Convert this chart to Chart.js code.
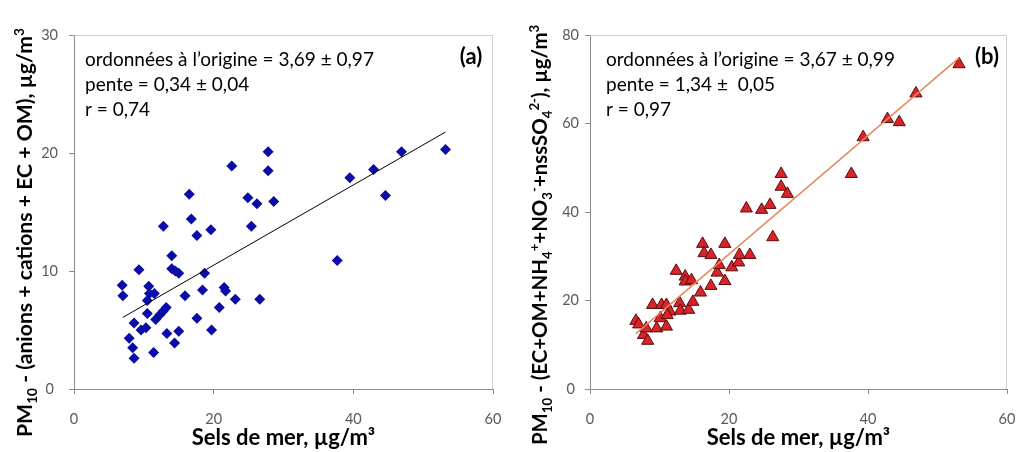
<!DOCTYPE html>
<html>
<head>
<meta charset="utf-8">
<script src="https://cdn.jsdelivr.net/npm/chart.js@4.4.1/dist/chart.umd.min.js"></script>
<style>
html, body { margin: 0; padding: 0; background: #fff; }
#wrap { position: relative; width: 1017px; height: 452px; }
#ca { position: absolute; left: 0; top: 0; }
#cb { position: absolute; left: 508px; top: 0; }
</style>
</head>
<body>
<div id="wrap">
  <canvas id="ca" width="508" height="452"></canvas>
  <canvas id="cb" width="509" height="452"></canvas>
</div>
<script>
// (a) sels de mer vs PM10 - (anions + cations + EC + OM)
const aX = [6.9, 7.0, 9.3, 8.6, 7.9, 8.4, 8.6, 11.4, 9.6, 10.3, 10.5, 10.7, 10.8, 11.5, 10.5, 11.7, 12.3, 12.8,
            13.2, 12.8, 14.0, 14.0, 14.5, 15.0, 13.3, 14.4, 15.0, 15.9, 16.5, 16.8, 17.6, 19.6, 18.7, 18.4,
            17.6, 19.7, 20.8, 21.5, 21.7, 23.1, 22.6, 24.9, 26.2, 25.4, 26.6, 27.8, 27.8, 28.6, 37.7, 39.5,
            42.9, 44.6, 46.9, 53.2];
const aY = [8.8, 7.9, 10.1, 5.6, 4.3, 3.5, 2.6, 3.1, 5.0, 5.2, 6.4, 8.7, 8.1, 8.1, 7.5, 5.9, 6.3, 6.6,
            6.9, 13.8, 11.3, 10.2, 10.0, 9.8, 4.7, 3.9, 4.9, 7.9, 16.5, 14.4, 13.0, 13.5, 9.8, 8.4,
            6.0, 5.0, 6.9, 8.6, 8.3, 7.6, 18.9, 16.2, 15.7, 13.8, 7.6, 20.1, 18.5, 15.9, 10.9, 17.9,
            18.6, 16.4, 20.1, 20.3];
const aFit = [3.69, 0.34];      // ordonnee, pente
const aRange = [7.0, 53.2];

// (b) sels de mer vs PM10 - (EC+OM+NH4+NO3+nssSO4)
const bX = [6.6, 7.0, 7.7, 8.3, 8.1, 9.0, 9.6, 10.1, 10.3, 11.0, 11.0, 11.5, 11.1, 12.4, 12.9, 13.0, 13.7, 13.7,
            14.6, 14.2, 14.8, 15.9, 16.2, 16.4, 17.4, 17.4, 18.3, 18.6, 19.4, 19.4, 20.4, 21.4, 21.5, 23.0,
            22.5, 24.7, 25.9, 26.3, 27.5, 27.5, 28.4, 37.6, 39.3, 42.8, 44.5, 46.9, 53.1];
const bY = [15.4, 14.6, 12.2, 10.9, 13.7, 19.0, 13.7, 16.0, 19.0, 14.1, 19.0, 17.5, 16.7, 26.7, 19.4, 17.7, 25.4, 24.3,
            24.6, 17.9, 19.7, 21.8, 32.8, 30.7, 30.3, 23.3, 26.3, 28.0, 32.8, 24.4, 27.5, 28.6, 30.3, 30.3,
            40.8, 40.5, 41.6, 34.3, 48.6, 45.7, 44.1, 48.6, 56.9, 61.0, 60.3, 66.8, 73.4];
const bFit = [3.67, 1.34];
const bRange = [6.6, 53.1];

const xTicks = [0, 20, 40, 60];
const aTicks = [0, 10, 20, 30];
const bTicks = [0, 20, 40, 60, 80];

const aNotes = ["ordonnées à l’origine = 3,69 ± 0,97", "pente = 0,34 ± 0,04", "r = 0,74"];
const bNotes = ["ordonnées à l’origine = 3,67 ± 0,99", "pente = 1,34 ±  0,05", "r = 0,97"];
const xTitle = "Sels de mer, µg/m³";
// [text, 0 normal | 1 indice | 2 exposant]
const aYTitle = [["PM", 0], ["10", 1], [" - (anions + cations + EC + OM), µg/m", 0], ["3", 2]];
const bYTitle = [["PM", 0], ["10", 1], [" - (EC+OM+NH", 0], ["4", 1], ["+", 2], ["+NO", 0], ["3", 1], ["-", 2],
                 ["+nssSO", 0], ["4", 1], ["2-", 2], ["), µg/m", 0], ["3", 2]];

const FONT = "Lato, 'Open Sans', sans-serif";

const notesPlugin = {
    id: 'notes',
    beforeDatasetsDraw(chart, args, o) {
        const a = chart.chartArea, ctx = chart.ctx;
        ctx.save();
        ctx.strokeStyle = '#cfcfcf';
        ctx.lineWidth = 1;
        ctx.beginPath();
        ctx.moveTo(a.left, a.top + 0.5);
        ctx.lineTo(a.right - 0.5, a.top + 0.5);
        ctx.lineTo(a.right - 0.5, a.bottom);
        ctx.stroke();
        ctx.restore();
    },
    afterDraw(chart, args, o) {
        const a = chart.chartArea, ctx = chart.ctx;
        ctx.save();
        ctx.fillStyle = '#000';
        ctx.font = '19px ' + FONT;
        ctx.textBaseline = 'middle';
        ctx.textAlign = 'left';
        o.lines.forEach((t, i) => ctx.fillText(t, a.left + o.dx, a.top + 25 + i * 25));
        ctx.font = 'bold 22px ' + FONT;
        ctx.textAlign = 'center';
        ctx.fillText(o.tag, o.tagX, a.top + 22);

        // titre de l'axe y avec indices / exposants, ajuste a la longueur voulue
        ctx.translate(o.titleX, o.titleY);
        ctx.rotate(-Math.PI / 2);
        let w = 0;
        o.yTitle.forEach(s => { ctx.font = 'bold ' + (s[1] ? 11 : 17) + 'px ' + FONT; w += ctx.measureText(s[0]).width; });
        const k = o.titleLen / w;
        const big = 'bold ' + (17 * k).toFixed(1) + 'px ' + FONT, small = 'bold ' + (11 * k).toFixed(1) + 'px ' + FONT;
        let x = -o.titleLen / 2;
        ctx.textAlign = 'left';
        ctx.textBaseline = 'alphabetic';
        o.yTitle.forEach(s => {
            ctx.font = s[1] ? small : big;
            const dy = s[1] === 1 ? 4 * k : s[1] === 2 ? -7 * k : 0;
            ctx.fillText(s[0], x, 6 * k + dy);
            x += ctx.measureText(s[0]).width;
        });
        ctx.restore();
    }
};

function makeChart(id, xs, ys, fit, range, yTicks, yMax, pt, line, notes, yTitle, lay) {
    const pts = xs.map((x, i) => ({ x: x, y: ys[i] }));
    const fitLine = range.map(x => ({ x: x, y: fit[0] + fit[1] * x }));
    return new Chart(document.getElementById(id), {
        type: 'scatter',
        data: {
            datasets: [{
                type: 'line',
                data: fitLine,
                borderColor: line.color,
                borderWidth: line.width,
                pointRadius: 0,
                fill: false,
                order: 0
            }, {
                data: pts,
                pointStyle: pt.style,
                pointRadius: pt.r,
                pointHoverRadius: pt.r,
                backgroundColor: pt.fill,
                borderColor: pt.border,
                borderWidth: pt.bw,
                order: 1
            }]
        },
        options: {
            responsive: false,
            animation: false,
            events: [],
            layout: { padding: { left: 0, right: lay.right, top: 35, bottom: 0 } },
            plugins: {
                legend: { display: false },
                tooltip: { enabled: false },
                notes: { lines: notes, dx: lay.dx, tag: lay.tag, tagX: lay.tagX, titleX: lay.titleX, titleY: lay.titleY,
                         titleLen: lay.titleLen, yTitle: yTitle }
            },
            scales: {
                x: {
                    type: 'linear', min: 0, max: 60,
                    afterBuildTicks: s => { s.ticks = xTicks.map(v => ({ value: v })); },
                    afterFit: s => { s.height = 63; s.paddingLeft = 0; s.paddingRight = 0; },
                    grid: { drawOnChartArea: false, tickLength: 5, color: '#8c8c8c' },
                    border: { color: '#8c8c8c', width: 1 },
                    ticks: { color: '#595959', font: { family: FONT, size: 14.5 }, padding: 17, maxRotation: 0 },
                    title: { display: true, text: xTitle, color: '#000', font: { family: FONT, size: 22, weight: 'bold' }, padding: { top: 0, bottom: 1 } }
                },
                y: {
                    type: 'linear', min: 0, max: yMax,
                    afterBuildTicks: s => { s.ticks = yTicks.map(v => ({ value: v })); },
                    afterFit: s => { s.width = lay.yw; },
                    grid: { drawOnChartArea: false, tickLength: 5, color: '#8c8c8c' },
                    border: { color: '#8c8c8c', width: 1 },
                    ticks: { color: '#595959', font: { family: FONT, size: 14.5 }, padding: lay.tp, crossAlign: 'center' }
                }
            }
        },
        plugins: [notesPlugin]
    });
}

makeChart('ca', aX, aY, aFit, aRange, aTicks, 30,
    { style: 'rectRot', r: 5.5, fill: '#0b0ba6', border: '#0b0ba6', bw: 0 },
    { color: '#000000', width: 1 },
    aNotes, aYTitle,
    { right: 15, yw: 74, tp: 11, dx: 11, tag: '(a)', tagX: 471, titleX: 25, titleY: 232, titleLen: 410 });

makeChart('cb', bX, bY, bFit, bRange, bTicks, 80,
    { style: 'triangle', r: 7, fill: '#d8232a', border: '#5a0c0c', bw: 1 },
    { color: '#e8875a', width: 1.5 },
    bNotes, bYTitle,
    { right: 10, yw: 82, tp: 6, dx: 16, tag: '(b)', tagX: 479, titleX: 32, titleY: 235, titleLen: 420 });
</script>
</body>
</html>
